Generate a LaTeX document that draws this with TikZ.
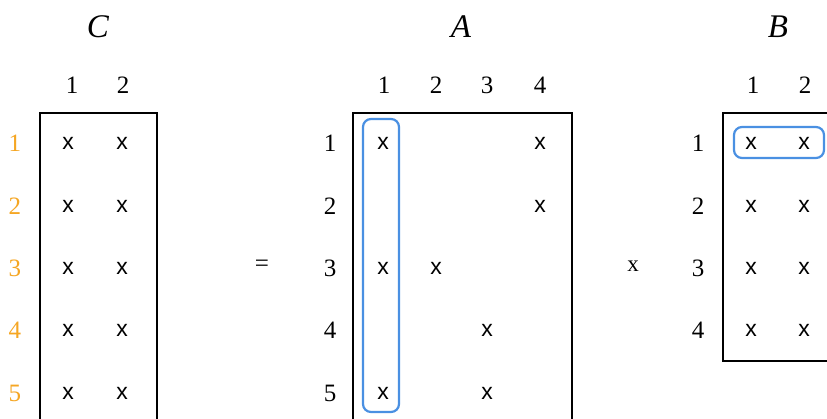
\documentclass[tikz,border=0pt]{standalone}
\usepackage{fontspec}
\setmainfont{Liberation Serif}
\newfontfamily\entryfont{Liberation Sans}
\definecolor{rowor}{RGB}{245,166,35}
\definecolor{selblue}{RGB}{74,144,226}
\begin{document}
\begin{tikzpicture}[x=1pt,y=-1pt,
  num/.style={font=\fontsize{25}{25}\selectfont, inner sep=0pt},
  onum/.style={num, text=rowor},
  ent/.style={font=\entryfont\fontsize{23}{23}\selectfont, inner sep=0pt},
  ttl/.style={font=\fontsize{33}{33}\selectfont\itshape, inner sep=0pt},
  mbox/.style={draw=black, line width=1.3pt},
  sel/.style={draw=selblue, line width=2.2pt, rounded corners=8pt}]
\useasboundingbox (0,0) rectangle (827,418);
\clip (0,0) rectangle (827,418);
% C
\node[ttl] (tC) at (98,27) {C};
\node[num] (cc1) at (72,85) {1};
\node[num] (cc2) at (123,85) {2};
\draw[mbox] (40,440) -- (40,113) -- (157,113) -- (157,440);
\foreach \r/\y in {1/143,2/206,3/268,4/330,5/393}{
  \node[onum] (cr\r) at (15,\y) {\r};
  \node[ent] (c\r a) at (68,\y) {x};
  \node[ent] (c\r b) at (122,\y) {x};
}
% equals
\node[num] (eq) at (262,266) {=};
% A
\node[ttl] (tA) at (461,27) {A};
\foreach \c/\x in {1/384,2/436,3/487,4/540}{
  \node[num] (ac\c) at (\x,85) {\c};
}
\draw[mbox] (353,440) -- (353,113) -- (572,113) -- (572,440);
\foreach \r/\y in {1/143,2/206,3/268,4/330,5/393}{
  \node[num] (ar\r) at (330,\y) {\r};
}
\node[ent] (a11) at (383,143) {x};
\node[ent] (a14) at (540,143) {x};
\node[ent] (a24) at (540,206) {x};
\node[ent] (a31) at (383,268) {x};
\node[ent] (a32) at (436,268) {x};
\node[ent] (a43) at (487,330) {x};
\node[ent] (a51) at (383,393) {x};
\node[ent] (a53) at (487,393) {x};
\draw[sel] (363,119) rectangle (399,412);
% times
\node[num, font=\fontsize{23}{23}\selectfont] (times) at (633,266) {x};
% B
\node[ttl] (tB) at (778,27) {B};
\node[num] (bc1) at (753,85) {1};
\node[num] (bc2) at (805,85) {2};
\draw[mbox] (840,361) -- (723,361) -- (723,113) -- (840,113);
\foreach \r/\y in {1/143,2/206,3/268,4/330}{
  \node[num] (br\r) at (698,\y) {\r};
  \node[ent] (b\r a) at (751,\y) {x};
  \node[ent] (b\r b) at (804,\y) {x};
}
\draw[sel] (734,127) rectangle (824,158);
\end{tikzpicture}
\end{document}
